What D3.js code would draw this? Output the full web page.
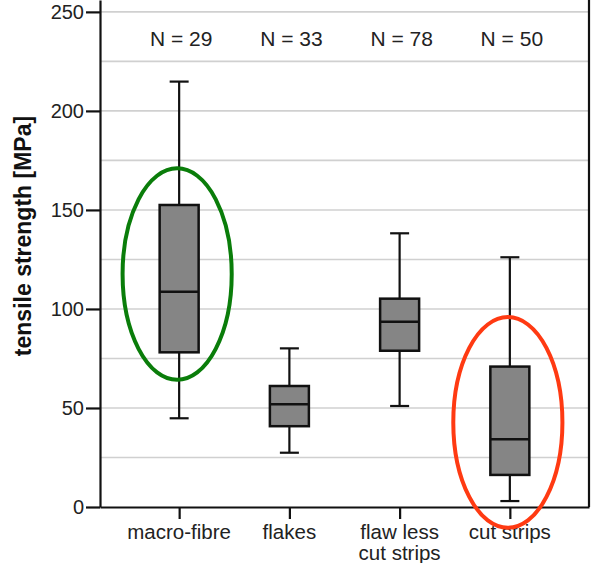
<!DOCTYPE html>
<html>
<head>
<meta charset="utf-8">
<script src="https://cdn.jsdelivr.net/npm/d3@7"></script>
<style>
  body { margin: 0; background: #fff; }
  svg { display: block; font-family: "Liberation Sans", Arial, Helvetica, sans-serif; }
</style>
</head>
<body>
<div id="chart"></div>
<script>
// data
var categories = ["macro-fibre", "flakes", "flaw less\ncut strips", "cut strips"];
var counts = [29, 33, 78, 50];
var whiskerLow = [44.8, 27.4, 51.0, 3.0];
var q1 = [78.1, 40.8, 78.9, 16.2];
var median = [108.7, 51.9, 93.6, 34.2];
var q3 = [152.5, 61.1, 105.2, 70.9];
var whiskerHigh = [214.8, 80.1, 138.2, 126.1];
var yTicks = [0, 50, 100, 150, 200, 250];
var gridValues = [25, 50, 75, 100, 125, 150, 175, 200, 225, 250];

// highlight ellipses (category index, centre value, half height in MPa)
var markIndex = [0, 3];
var markCentre = [117.6, 42.7];
var markHalf = [53.4, 53.2];
var markColor = ["#0a7d0a", "#ff3a12"];

var width = 594, height = 563;
var margin = {top: 0, right: 5, bottom: 56, left: 100};

var svg = d3.select("#chart").append("svg")
  .attr("width", width)
  .attr("height", height);

var x = d3.scalePoint()
  .domain(categories)
  .range([margin.left, width - margin.right])
  .padding(0.718);

var y = d3.scaleLinear()
  .domain([0, 256])
  .range([height - margin.bottom, margin.top]);

// grid lines
svg.append("g").selectAll("line")
  .data(gridValues)
  .enter().append("line")
  .attr("x1", margin.left)
  .attr("x2", width - margin.right)
  .attr("y1", function(d) { return y(d); })
  .attr("y2", function(d) { return y(d); })
  .attr("stroke", "#d0d0d0")
  .attr("stroke-width", 1.6);

// right frame
svg.append("line")
  .attr("x1", width - margin.right).attr("x2", width - margin.right)
  .attr("y1", y(0)).attr("y2", margin.top)
  .attr("stroke", "#111").attr("stroke-width", 2.2);

// y axis
var yAxis = svg.append("g")
  .attr("transform", `translate(${margin.left},0)`)
  .call(d3.axisLeft(y).tickValues(yTicks).tickSize(14).tickPadding(2).tickSizeOuter(0));
yAxis.select(".domain").attr("stroke-width", 2.2).attr("stroke", "#111");
yAxis.selectAll(".tick line").attr("stroke-width", 2.2).attr("stroke", "#111");
yAxis.selectAll("text")
  .style("font-size", "20px")
  .attr("fill", "#222")
  .attr("dy", "0.34em");

// x axis
var xAxis = svg.append("g")
  .attr("transform", `translate(0,${y(0)})`)
  .call(d3.axisBottom(x).tickSize(12).tickSizeOuter(0));
xAxis.select(".domain").attr("stroke-width", 2.2).attr("stroke", "#111");
xAxis.selectAll(".tick line").attr("stroke-width", 2.2).attr("stroke", "#111");
xAxis.selectAll("text").remove();

// category labels (multi-line)
svg.append("g").selectAll("text")
  .data(categories)
  .enter().append("text")
  .attr("text-anchor", "middle")
  .attr("x", function(d) { return x(d); })
  .attr("y", 539)
  .style("font-size", "20.5px")
  .attr("fill", "#222")
  .each(function(d) {
    var lines = d.split("\n");
    var t = d3.select(this);
    lines.forEach(function(l, i) {
      t.append("tspan")
        .attr("x", x(d))
        .attr("dy", i === 0 ? 0 : 21)
        .text(l);
    });
  });

// y axis title
svg.append("text")
  .attr("transform", "translate(31," + 236 + ") rotate(-90)")
  .attr("text-anchor", "middle")
  .style("font-size", "23px")
  .style("font-weight", "bold")
  .attr("fill", "#111")
  .text("tensile strength [MPa]");

// N labels
svg.append("g").selectAll("text")
  .data(categories)
  .enter().append("text")
  .attr("text-anchor", "middle")
  .attr("x", function(d) { return x(d) + 2; })
  .attr("y", 46)
  .style("font-size", "21px")
  .attr("fill", "#222")
  .text(function(d, i) { return "N = " + counts[i]; });

// box plots
var boxW = 39, capW = 19;
var boxes = svg.append("g").selectAll("g")
  .data(categories)
  .enter().append("g");

boxes.append("line")
  .attr("x1", function(d) { return x(d); })
  .attr("x2", function(d) { return x(d); })
  .attr("y1", function(d, i) { return y(whiskerLow[i]); })
  .attr("y2", function(d, i) { return y(whiskerHigh[i]); })
  .attr("stroke", "#111").attr("stroke-width", 2.2);

boxes.append("line")
  .attr("x1", function(d) { return x(d) - capW / 2; })
  .attr("x2", function(d) { return x(d) + capW / 2; })
  .attr("y1", function(d, i) { return y(whiskerHigh[i]); })
  .attr("y2", function(d, i) { return y(whiskerHigh[i]); })
  .attr("stroke", "#111").attr("stroke-width", 2.2);

boxes.append("line")
  .attr("x1", function(d) { return x(d) - capW / 2; })
  .attr("x2", function(d) { return x(d) + capW / 2; })
  .attr("y1", function(d, i) { return y(whiskerLow[i]); })
  .attr("y2", function(d, i) { return y(whiskerLow[i]); })
  .attr("stroke", "#111").attr("stroke-width", 2.2);

boxes.append("rect")
  .attr("x", function(d) { return x(d) - boxW / 2; })
  .attr("width", boxW)
  .attr("y", function(d, i) { return y(q3[i]); })
  .attr("height", function(d, i) { return y(q1[i]) - y(q3[i]); })
  .attr("fill", "#858585")
  .attr("stroke", "#111").attr("stroke-width", 2.5);

boxes.append("line")
  .attr("x1", function(d) { return x(d) - boxW / 2; })
  .attr("x2", function(d) { return x(d) + boxW / 2; })
  .attr("y1", function(d, i) { return y(median[i]); })
  .attr("y2", function(d, i) { return y(median[i]); })
  .attr("stroke", "#111").attr("stroke-width", 2.5);

// highlight ellipses
var rx = x.step() * 0.495;
svg.append("g").selectAll("ellipse")
  .data(markIndex)
  .enter().append("ellipse")
  .attr("cx", function(d) { return x(categories[d]) - 2; })
  .attr("cy", function(d, i) { return y(markCentre[i]); })
  .attr("rx", rx)
  .attr("ry", function(d, i) { return y(0) - y(markHalf[i]); })
  .attr("fill", "none")
  .attr("stroke", function(d, i) { return markColor[i]; })
  .attr("stroke-width", 4);
</script>
</body>
</html>
